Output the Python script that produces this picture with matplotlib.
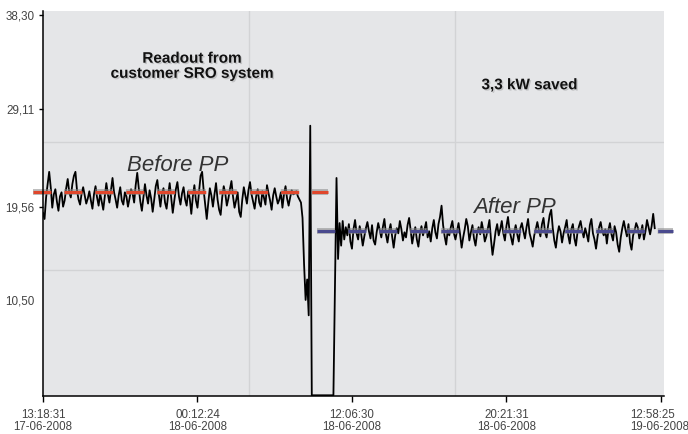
import matplotlib

matplotlib.use("Agg")
import matplotlib.pyplot as plt
import matplotlib.patheffects as pe
import matplotlib.transforms as mtransforms
import numpy as np


STEP = 0.01
XTICK_POS = [0, 1, 2, 3, 4]
XTICK_LABELS = [
    "13:18:31\n17-06-2008",
    "00:12:24\n18-06-2008",
    "12:06:30\n18-06-2008",
    "20:21:31\n18-06-2008",
    "12:58:25\n19-06-2008",
]
YTICK_VALUES = [38.30, 29.11, 19.56, 10.50]
YTICK_LABELS = ["38,30", "29,11", "19,56", "10,50"]
GRID_X = [1.333, 2.667]
GRID_Y = [13.45, 25.9]

# readout before the change
BEFORE = [
    19.0, 18.4, 20.5, 21.8, 23.0, 21.5, 19.5, 20.8, 21.3, 20.1,
    19.2, 20.6, 21.0, 19.6, 20.2, 21.4, 22.3, 21.0, 20.5, 21.8,
    22.6, 23.0, 21.2, 20.3, 19.8, 20.9, 21.5, 20.7, 19.9, 20.4,
    21.1, 20.2, 19.4, 20.8, 21.6, 20.5, 19.7, 20.9, 20.1, 19.3,
    20.6, 21.9, 20.8, 20.0, 21.2, 22.4, 21.0, 20.3, 19.5, 20.7,
    21.5, 20.2, 19.8, 21.0, 20.6, 19.6, 20.4, 21.3, 20.9, 20.0,
    21.7, 22.9, 21.4, 20.1, 19.2, 20.5, 21.8, 20.7, 19.9, 21.2,
    20.4, 19.1, 20.3, 21.6, 22.2, 20.8, 19.6, 20.9, 21.4, 20.0,
    19.4, 20.7, 21.9, 20.5, 19.0, 20.2, 21.3, 22.0, 20.6, 19.8,
    20.9, 21.5, 20.3, 19.7, 21.1, 20.4, 18.9, 20.6, 21.7, 20.2,
    19.5, 21.0, 22.6, 23.0, 21.2, 19.8, 18.4, 20.0, 21.4, 20.7,
    19.6, 20.8, 21.9, 20.3, 19.3, 18.8, 20.5, 21.6, 20.9, 19.7,
    20.4, 21.3, 22.1, 20.6, 19.5, 20.2, 21.0, 19.1, 18.6, 20.3,
    21.5, 20.7, 19.9, 21.2, 22.0, 20.8, 20.1, 19.4, 20.6, 21.3,
    20.0, 19.6, 21.1, 20.5, 19.8, 21.7, 20.9, 20.2, 19.3, 20.7,
    21.4, 20.6, 19.9, 20.3, 21.0, 19.5, 20.8, 21.6, 20.4, 19.7,
    20.5, 21.2, 20.8, 20.9, 21.1, 20.6, 20.3,
]
# shutdown and restart
TRANSITION = [
    20.0, 18.5, 14.0, 10.5, 12.5, 9.0, 27.5,
    1.2, 1.2, 1.2, 1.2, 1.2, 1.2, 1.2, 1.2, 1.2, 1.2, 1.2, 1.2, 1.2, 1.2, 1.2,
    12.0, 22.4, 14.5, 18.0, 15.8, 18.2, 16.4, 17.6,
]
# readout after the change
AFTER = [
    16.8, 17.9, 16.2, 15.5, 17.4, 18.3, 17.0, 16.4, 17.7, 16.9,
    15.8, 16.7, 17.5, 18.1, 17.2, 16.5, 17.8, 16.3, 15.9, 17.1,
    18.0, 17.3, 16.6, 17.6, 18.4, 16.9, 16.1, 17.2, 17.9, 16.7,
    15.6, 16.8, 17.5, 17.0, 18.2, 17.4, 16.3, 17.1, 16.6, 17.8,
    18.5, 17.3, 16.0, 16.9, 17.6, 16.4, 15.7, 17.0, 17.7, 16.8,
    17.4, 18.1, 16.6, 17.2, 16.2, 17.5, 18.3, 17.1, 16.5, 17.9,
    18.6, 19.7, 17.8, 16.7, 15.9, 17.3, 16.8, 17.6, 18.2, 17.0,
    16.4, 17.2, 18.0, 16.9, 15.6, 16.6, 17.4, 18.4, 17.7, 16.3,
    17.1, 17.8, 16.5, 15.8, 17.0, 17.6, 16.9, 18.1, 17.3, 16.2,
    16.7, 17.5, 18.3, 16.4, 14.9, 16.0, 17.2, 17.9, 16.8, 17.4,
    18.2, 17.0, 16.3, 17.7, 18.6, 17.3, 16.6, 15.9, 17.1, 17.8,
    16.9, 16.2, 17.5, 18.0, 17.2, 16.5, 17.6, 18.4, 17.0, 16.4,
    15.7, 16.8, 17.4, 18.1, 17.3, 16.7, 17.9, 18.5, 17.1, 16.6,
    17.8, 18.8, 19.3, 17.5, 16.3, 15.6, 16.9, 17.7, 17.2, 16.1,
    17.0, 17.6, 18.3, 16.8, 16.0, 17.4, 17.9, 16.5, 15.8, 17.1,
    17.7, 18.2, 17.3, 16.6, 17.5, 16.9, 16.2, 17.8, 18.4, 17.0,
    16.4, 15.5, 16.7, 17.6, 18.1, 17.2, 16.8, 17.4, 16.0, 17.3,
    18.0, 16.9, 16.3, 17.7, 17.1, 15.9, 15.2, 16.6, 17.5, 18.2,
    17.4, 16.7, 17.9, 16.1, 15.4, 16.8, 17.3, 18.0, 17.6, 16.5,
    17.0, 17.8, 16.4, 17.2, 18.3, 17.6, 16.9, 17.7, 18.9, 17.5,
]

BEFORE_MEAN = 21.03
BEFORE_SPAN = [-0.065, 1.845]
AFTER_MEAN = 17.23
AFTER_SPAN = [1.773, 4.078]


def main() -> None:
    plt.rcParams["font.family"] = ["Liberation Sans", "DejaVu Sans"]

    values = np.array(BEFORE + TRANSITION + AFTER)
    x = np.arange(len(values)) * STEP

    fig = plt.figure(figsize=(6.88, 4.34), dpi=100)
    ax = fig.add_axes([43 / 688, 38 / 434, 621 / 688, 385 / 434])
    ax.set_facecolor("#e5e6e8")

    for gx in GRID_X:
        ax.axvline(gx, color="#d2d3d5", lw=1, zorder=1)
    for gy in GRID_Y:
        ax.axhline(gy, color="#d2d3d5", lw=1, zorder=1)

    ax.plot(x, values, color="black", lw=1.3, zorder=3)

    lw = 2.2
    dashes = (12.9 / lw, 9.4 / lw)
    shadow = [pe.Stroke(linewidth=4.2, foreground="#8a8a8a", alpha=0.6), pe.Normal()]
    ax.plot(BEFORE_SPAN, [BEFORE_MEAN, BEFORE_MEAN], color="#e0472c", lw=lw,
            dashes=dashes, clip_on=False, zorder=4, path_effects=shadow,
            dash_capstyle="butt")
    ax.plot(AFTER_SPAN, [AFTER_MEAN, AFTER_MEAN], color="#4a4a8e", lw=lw,
            dashes=dashes, clip_on=False, zorder=4, path_effects=shadow,
            dash_capstyle="butt")

    ax.set_xlim(0, 4.02)
    ax.set_ylim(1.13, 38.69)

    ax.set_xticks(XTICK_POS)
    ax.set_xticklabels(XTICK_LABELS)
    ax.set_yticks(YTICK_VALUES)
    ax.set_yticklabels(YTICK_LABELS)
    ax.tick_params(axis="x", direction="out", length=4.3, width=1, pad=5,
                   labelsize=8.3, labelcolor="#444444")
    ax.tick_params(axis="y", direction="out", length=3, width=1, pad=3,
                   labelsize=8.4, labelcolor="#444444")
    ax.get_yticklines()[-2].set_visible(False)
    for label in ax.get_xticklabels():
        label.set_linespacing(1.05)

    # last date label sits against the right edge of the figure
    last = ax.get_xticklabels()[-1]
    last.set_horizontalalignment("left")
    last.set_transform(last.get_transform()
                       + mtransforms.ScaledTranslation(-0.31, 0, fig.dpi_scale_trans))

    for side in ["top", "right"]:
        ax.spines[side].set_visible(False)
    for side in ["left", "bottom"]:
        ax.spines[side].set_linewidth(1.1)
        ax.spines[side].set_zorder(5)

    text_shadow = [pe.withSimplePatchShadow(offset=(1, -1), alpha=0.15)]
    ax.text(0.965, 33.3, "Readout from\ncustomer SRO system", ha="center",
            va="center", fontsize=11, fontweight="bold", linespacing=1.1,
            color="#111111", path_effects=text_shadow)
    ax.text(3.15, 31.45, "3,3 kW saved", ha="center", va="center", fontsize=11,
            fontweight="bold", color="#111111", path_effects=text_shadow)
    ax.text(0.874, 23.6, "Before PP", ha="center", va="center", fontsize=16,
            style="italic", color="#333333")
    ax.text(3.05, 19.5, "After PP", ha="center", va="center", fontsize=16,
            style="italic", color="#333333")

    fig.savefig("out.png", dpi=100)


if __name__ == "__main__":
    main()
